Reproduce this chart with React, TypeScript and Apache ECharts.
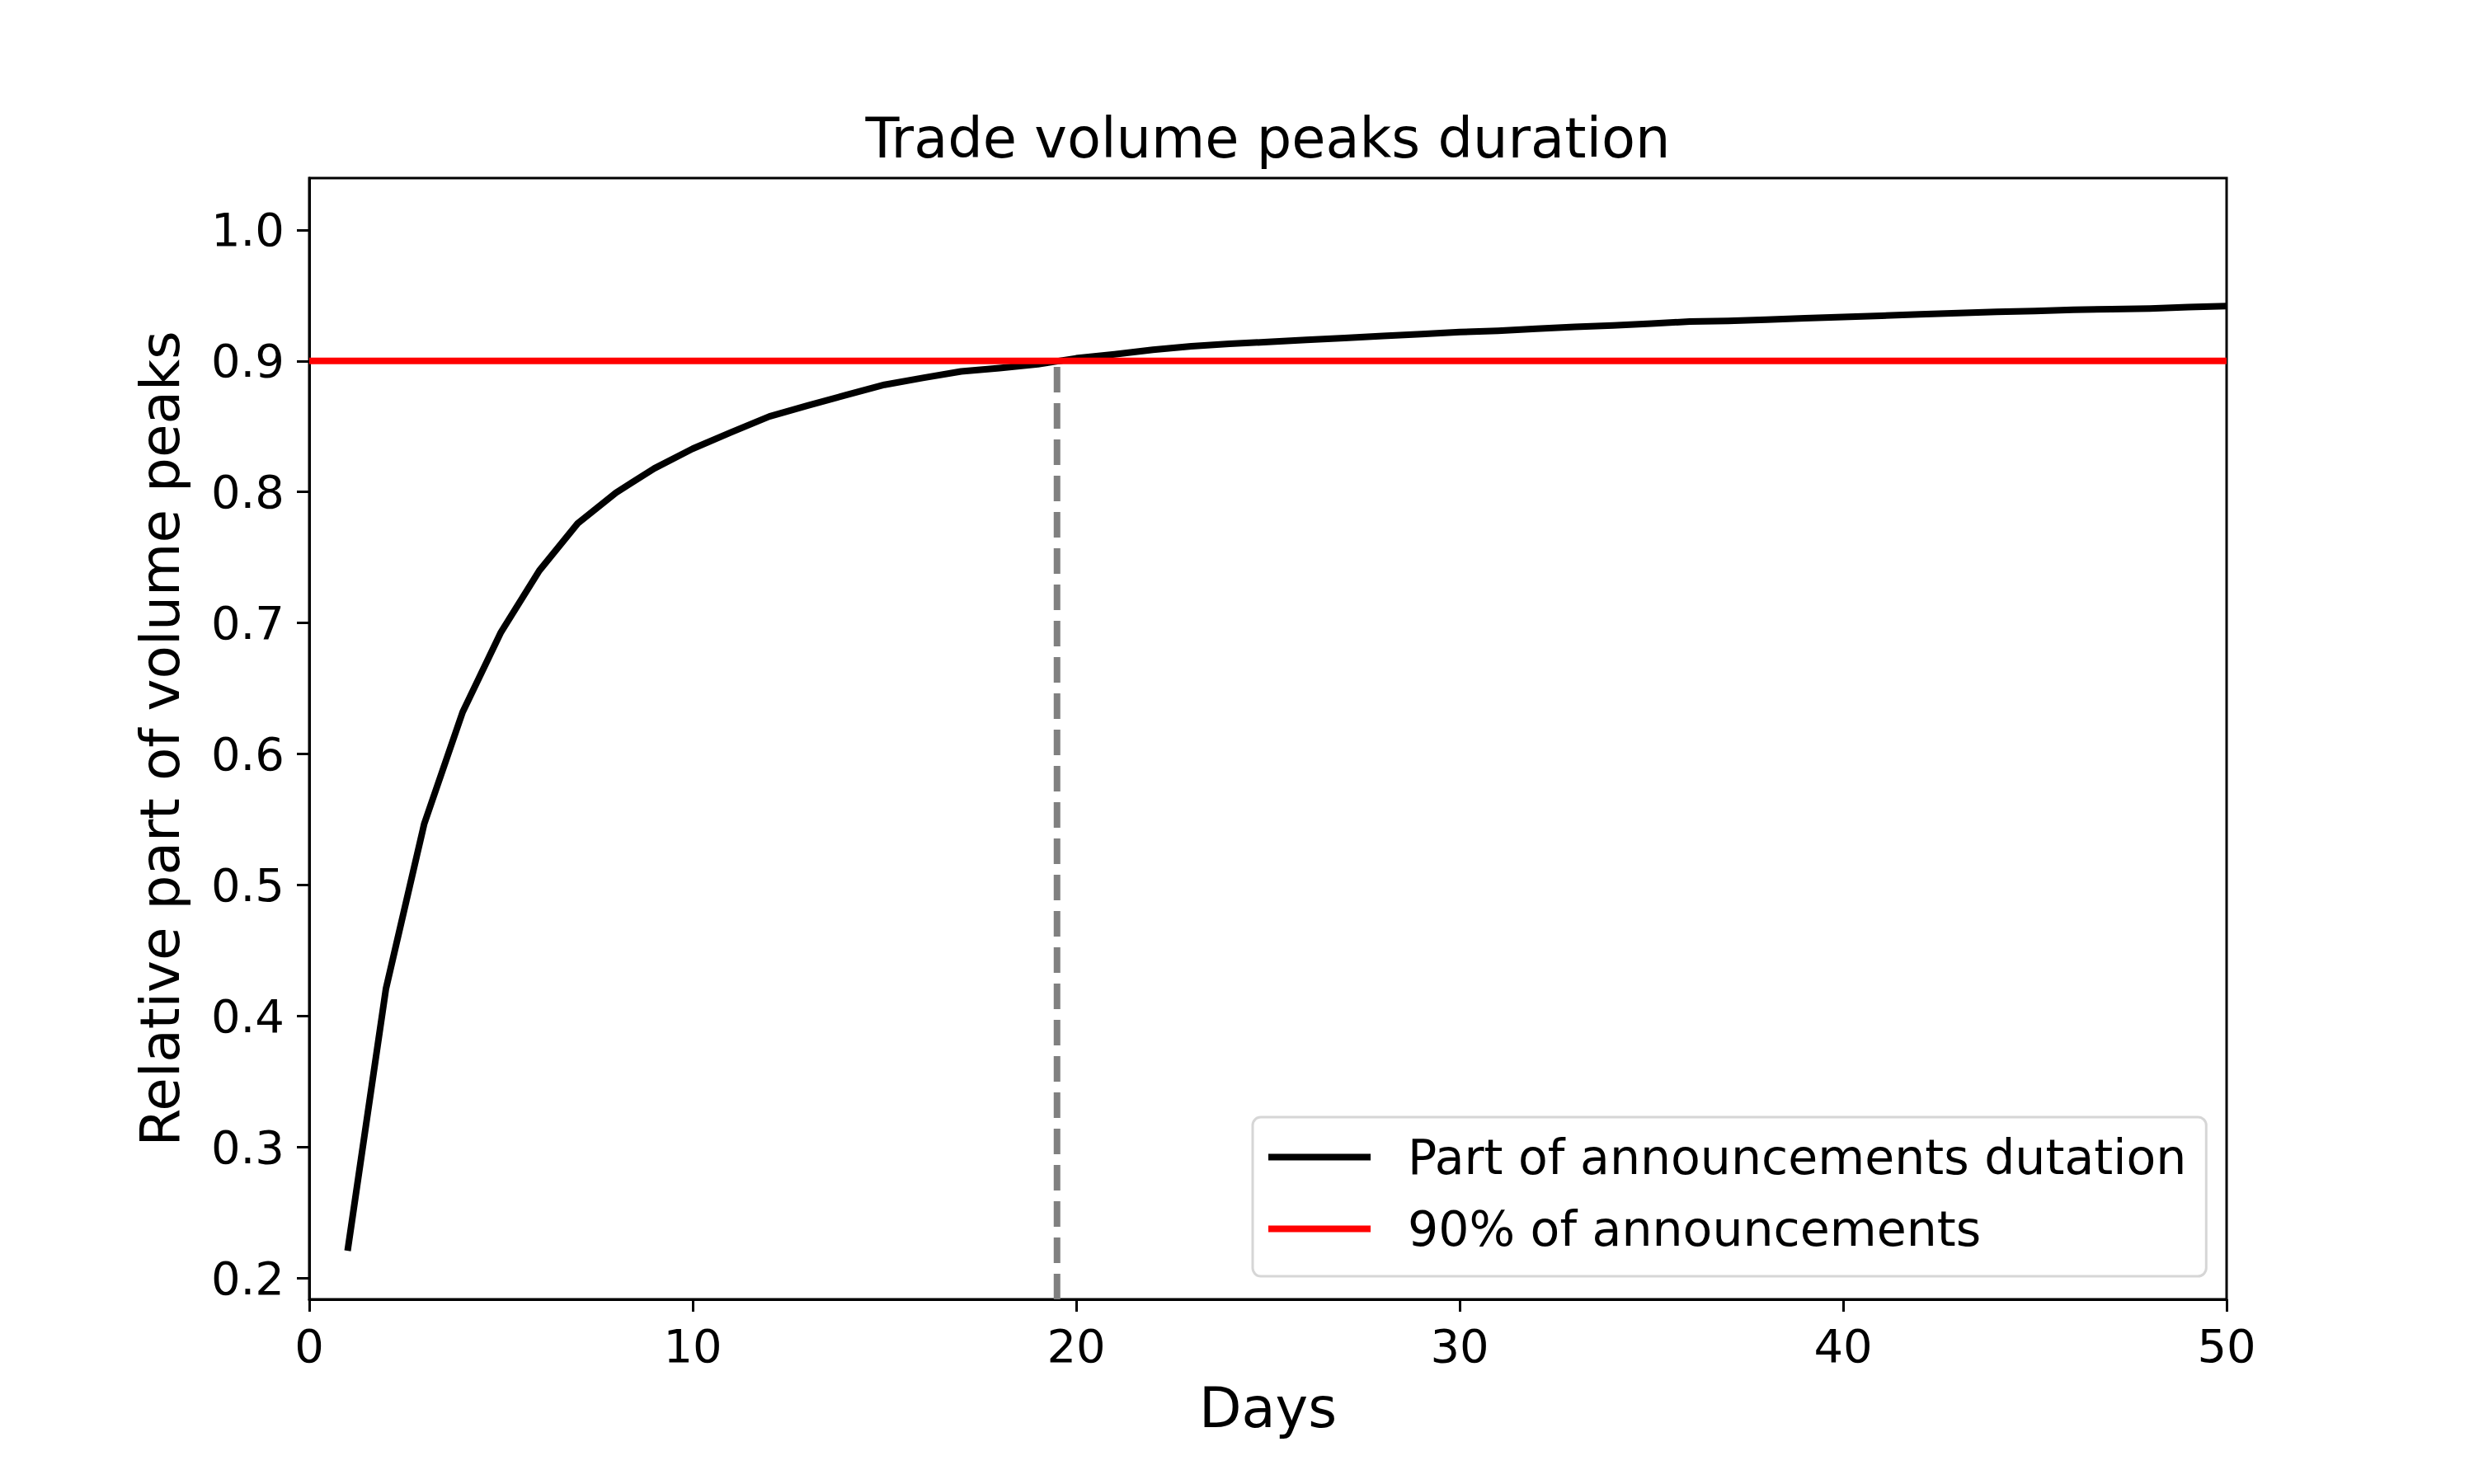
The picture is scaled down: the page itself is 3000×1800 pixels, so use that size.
import React, { useEffect, useRef } from "react";
import * as echarts from "echarts";

const TITLE = "Trade volume peaks duration";
const X_LABEL = "Days";
const Y_LABEL = "Relative part of volume peaks";
const SERIES_CURVE = "Part of announcements dutation";
const SERIES_THRESHOLD = "90% of announcements";

const days = Array.from({ length: 50 }, (_, i) => i + 1);
const partValues = [
  0.221, 0.421, 0.547, 0.632, 0.693, 0.740, 0.776, 0.7995, 0.818, 0.833,
  0.8455, 0.8576, 0.866, 0.874, 0.8818, 0.887, 0.892, 0.8945, 0.8975, 0.902,
  0.905, 0.9085, 0.9112, 0.913, 0.9145, 0.916, 0.9175, 0.919, 0.9205, 0.922,
  0.923, 0.9245, 0.926, 0.927, 0.9285, 0.930, 0.9305, 0.9315, 0.9325, 0.9335,
  0.9345, 0.9355, 0.9365, 0.9375, 0.938, 0.939, 0.9395, 0.940, 0.941, 0.9418,
];
const THRESHOLD = 0.9;
const CROSS_DAY = 19.5;
const X_MIN = 0;
const X_MAX = 50;
const X_INTERVAL = 10;
const Y_MIN = 0.184;
const Y_MAX = 1.0395;
const yTicks = [0.2, 0.3, 0.4, 0.5, 0.6, 0.7, 0.8, 0.9, 1.0];

const FONT = "DejaVu Sans";

export default function App() {
  const ref = useRef<HTMLDivElement>(null);
  useEffect(() => {
    document.body.style.margin = "0";
    const chart = echarts.init(ref.current!, null, { renderer: "svg" });
    const curveData = days.map((d, i) => [d, partValues[i]]);
    chart.setOption({
      animation: false,
      backgroundColor: "#ffffff",
      textStyle: { fontFamily: FONT, color: "#000" },
      grid: {
        left: 375,
        top: 216,
        width: 2325,
        height: 1360,
        show: true,
        borderColor: "#000",
        borderWidth: 3,
        backgroundColor: "transparent",
      },
      title: { show: false },
      graphic: [
        {
          type: "text",
          x: 1537.5,
          y: 168,
          style: {
            text: TITLE,
            fontSize: 67,
            fontFamily: FONT,
            fill: "#000",
            textAlign: "center",
            textVerticalAlign: "middle",
          },
        },
      ],
      legend: {
        orient: "vertical",
        left: 1519,
        top: 1355,
        data: [SERIES_CURVE, SERIES_THRESHOLD],
        icon: "rect",
        itemWidth: 124,
        itemHeight: 8,
        itemGap: 28,
        padding: [19, 24, 28, 19],
        backgroundColor: "rgba(255,255,255,0.8)",
        borderColor: "#d6d6d6",
        borderWidth: 3,
        borderRadius: 10,
        textStyle: {
          fontSize: 58.5,
          fontFamily: FONT,
          color: "#000",
          padding: [0, 0, 0, 40],
        },
      },
      xAxis: {
        type: "value",
        min: X_MIN,
        max: X_MAX,
        interval: X_INTERVAL,
        name: X_LABEL,
        nameLocation: "middle",
        nameGap: 98,
        nameTextStyle: { fontSize: 67, fontFamily: FONT, color: "#000" },
        splitLine: { show: false },
        axisLine: { show: true, lineStyle: { color: "#000", width: 3 } },
        axisTick: { show: true, inside: false, length: 15, lineStyle: { color: "#000", width: 3 } },
        axisLabel: { fontSize: 56, fontFamily: FONT, color: "#000", margin: 28 },
      },
      yAxis: {
        type: "value",
        min: Y_MIN,
        max: Y_MAX,
        name: Y_LABEL,
        nameLocation: "middle",
        nameGap: 148,
        nameRotate: 90,
        nameTextStyle: { fontSize: 66, fontFamily: FONT, color: "#000" },
        splitLine: { show: false },
        axisLine: { show: true, lineStyle: { color: "#000", width: 3 } },
        axisTick: {
          show: true,
          inside: false,
          length: 15,
          lineStyle: { color: "#000", width: 3 },
          customValues: yTicks,
        },
        axisLabel: {
          fontSize: 56,
          fontFamily: FONT,
          color: "#000",
          margin: 30,
          customValues: yTicks,
          formatter: (v: number) => v.toFixed(1),
        },
      },
      series: [
        {
          name: SERIES_CURVE,
          type: "line",
          data: curveData,
          showSymbol: false,
          symbol: "none",
          lineStyle: { color: "#000000", width: 8, join: "round" },
          itemStyle: { color: "#000000" },
          z: 2,
        },
        {
          name: SERIES_THRESHOLD,
          type: "line",
          data: [
            [X_MIN, THRESHOLD],
            [X_MAX, THRESHOLD],
          ],
          showSymbol: false,
          symbol: "none",
          lineStyle: { color: "#ff0000", width: 8 },
          itemStyle: { color: "#ff0000" },
          z: 3,
        },
        {
          name: "cross",
          type: "line",
          data: [
            [CROSS_DAY, Y_MIN],
            [CROSS_DAY, THRESHOLD],
          ],
          showSymbol: false,
          symbol: "none",
          lineStyle: { color: "#808080", width: 8, type: [31, 13] },
          itemStyle: { color: "#808080" },
          z: 4,
        },
      ],
    });
    return () => chart.dispose();
  }, []);
  return (
    <div
      ref={ref}
      style={{ position: "absolute", left: 0, top: 0, width: 3000, height: 1800 }}
    />
  );
}
